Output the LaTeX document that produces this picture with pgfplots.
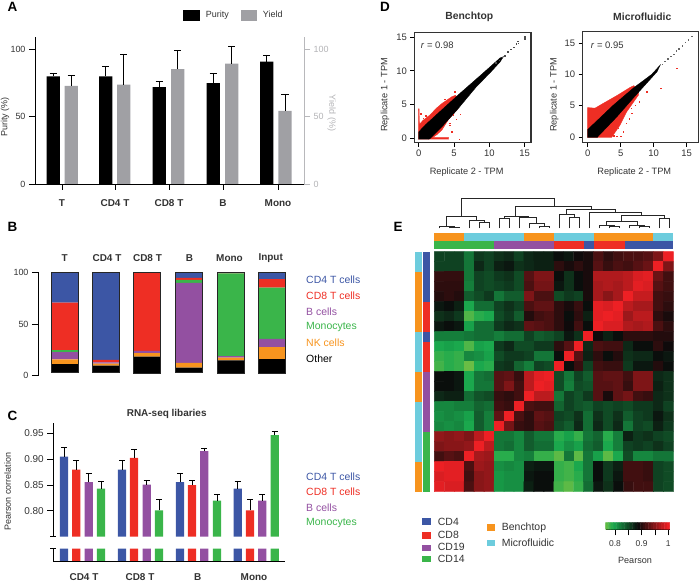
\documentclass[border=0pt]{standalone}
\usepackage{fontspec}
\setmainfont{Liberation Sans}
\usepackage{pgfplots}
\usepackage{pgfplotstable}
\pgfplotsset{compat=1.18}

\definecolor{cblue}{HTML}{3C56A5}
\definecolor{cred}{HTML}{EE2E24}
\definecolor{cpurple}{HTML}{9350A1}
\definecolor{cgreen}{HTML}{3AB54A}
\definecolor{corange}{HTML}{F7941E}
\definecolor{ccyan}{HTML}{6DCCDD}
\definecolor{cgrey}{HTML}{A0A0A4}
\definecolor{ctext}{HTML}{333333}

\newcommand\fs[1]{\fontsize{#1}{#1}\selectfont}

\pgfplotsset{
  panel/.style={scale only axis, anchor=south west, clip=false, enlargelimits=false,
    axis line style={line width=0.9pt}, tick style={line width=0.9pt,black},
    tick align=outside, major tick length=6bp,
    /pgf/number format/assume math mode=true,
    tick label style={font=\fs{9},text=ctext}},
  colormap={heat}{rgb255(0cm)=(106,189,69) rgb255(3cm)=(25,168,77) rgb255(12cm)=(10,10,10) rgb255(23cm)=(237,32,36)},
  errs/.style={error bars/y dir=plus, error bars/y explicit,
    error bars/error bar style={line width=0.9pt,black},
    error bars/error mark options={rotate=90,mark size=#1,line width=0.9pt,black}},
  scat/.style={panel, width=#1, xtick={0,5,10,15}, ytick={0,5,10,15},
    xtick pos=bottom, ytick pos=left, major tick length=4bp,
    axis line style={line width=1.1pt,ctext},
    tick label style={font=\fs{9.5}}},
  dots/.style={only marks, mark=square*, mark size=0.3bp, #1},
}

% panel B, stacked shares; base lifts the bars off the zero line
\pgfplotstableread{
x     base other nk   bc   mono cd8  cd4  rest
64.7  3.0  8.3   4.5  7.1  1.9  45.8 29.4 97.0
106.0 3.0  6.7   1.9  1.3  0    2.3  84.8 97.0
147.3 2.3  16.1  3.5  2.0  0    76.1 0    97.7
189.3 3.0  4.7   4.6  77.4 2.9  1.9  5.4  97.0
230.7 2.3  12.5  2.6  1.6  80.0 1.0  0    97.7
271.7 2.3  13.8  11.6 7.8  49.7 8.3  6.5  97.7
}\tableB

\newcommand\strip[5]{\addplot[fill=#1,draw=none,forget plot] coordinates {(#2,#4)(#3,#4)(#3,#5)(#2,#5)};}
% one dendrogram join: x1, x2, height, foot of left leg, foot of right leg
\newcommand\join[5]{\addplot[black!85,line width=0.8pt,forget plot] coordinates {(#1,#4)(#1,#3)(#2,#3)(#2,#5)};}

\begin{document}
\begin{tikzpicture}[x=1bp,y=1bp]
\path[use as bounding box] (0,0) rectangle (700,583);

% ---------- A
\begin{axis}[panel, at={(35bp,399bp)}, width=269bp, height=147bp,
    xmin=35, xmax=304, ymin=0, ymax=109.4,
    axis x line*=bottom, axis y line*=left,
    ytick={0,50,100},
    xtick={62,115,169,223,278}, xticklabels={T,CD4 T,CD8 T,B,Mono},
    xticklabel style={font=\fs{10}\bfseries,yshift=-6bp},
    ybar, bar width=13.3bp, bar shift=0pt]
\addplot[fill=black,draw=none,errs=3.6bp] coordinates {
  (53.3,80) +- (0,2.5) (105.7,80) +- (0,7.5) (159.3,72) +- (0,4.5) (213.3,75) +- (0,7) (266.7,91) +- (0,5)};
\addplot[fill=cgrey,draw=none,errs=3.6bp] coordinates {
  (71.3,73) +- (0,8) (123.7,74) +- (0,22.5) (177.7,85.5) +- (0,14) (231.7,89.5) +- (0,13) (285,54.5) +- (0,12.5)};
\end{axis}
\begin{axis}[panel, at={(35bp,399bp)}, width=269bp, height=147bp,
    xmin=35, xmax=304, ymin=0, ymax=109.4,
    axis x line=none, axis y line*=right, ytick={0,50,100},
    axis line style={cgrey!75}, tick style={cgrey!75},
    tick label style={text=cgrey!80}]
\addplot[draw=none] coordinates {(35,0)};
\end{axis}

% ---------- B
\begin{axis}[panel, at={(38bp,207.3bp)}, width=262bp, height=103.4bp,
    xmin=38, xmax=300, ymin=0, ymax=100,
    axis x line=none, axis y line*=left, ytick={0,50,100},
    ybar stacked, bar width=27bp]
\addplot[fill=none,draw=none] table[x=x,y=base] {\tableB};
\addplot[fill=black,draw=none] table[x=x,y=other] {\tableB};
\addplot[fill=corange,draw=none] table[x=x,y=nk] {\tableB};
\addplot[fill=cpurple,draw=none] table[x=x,y=bc] {\tableB};
\addplot[fill=cgreen,draw=none] table[x=x,y=mono] {\tableB};
\addplot[fill=cred,draw=none] table[x=x,y=cd8] {\tableB};
\addplot[fill=cblue,draw=none] table[x=x,y=cd4] {\tableB};
\end{axis}
\begin{axis}[panel, at={(38bp,207.3bp)}, width=262bp, height=103.4bp,
    xmin=38, xmax=300, ymin=0, ymax=100, hide axis,
    ybar stacked, bar width=27bp]
\addplot[fill=none,draw=none] table[x=x,y=base] {\tableB};
\addplot[fill=none,draw=black!85,line width=1.1pt] table[x=x,y=rest] {\tableB};
\end{axis}

% ---------- C, upper part of the broken axis
\begin{axis}[panel, at={(53.3bp,46.3bp)}, width=232bp, height=113.4bp, clip=true,
    xmin=53.3, xmax=285.3, ymin=0.75, ymax=0.9698,
    axis x line=none, axis y line*=left,
    ytick={0.8,0.85,0.9,0.95}, extra y ticks={0.75}, extra y tick labels={},
    extra y tick style={tick align=center},
    yticklabel style={/pgf/number format/fixed,/pgf/number format/fixed zerofill,/pgf/number format/precision=2,font=\fs{10}},
    ybar, bar width=8.3bp, bar shift=0pt]
\addplot[fill=cblue,draw=none,errs=3bp] coordinates {
  (64,0.905) +- (0,0.018) (122,0.880) +- (0,0.017) (180,0.856) +- (0,0.016) (237.7,0.843) +- (0,0.015)};
\addplot[fill=cred,draw=none,errs=3bp] coordinates {
  (76.3,0.880) +- (0,0.017) (134,0.903) +- (0,0.016) (192,0.850) +- (0,0.009) (250,0.801) +- (0,0.022)};
\addplot[fill=cpurple,draw=none,errs=3bp] coordinates {
  (88.7,0.856) +- (0,0.016) (146.7,0.851) +- (0,0.008) (204.3,0.916) +- (0,0.006) (262.3,0.820) +- (0,0.012)};
\addplot[fill=cgreen,draw=none,errs=3bp] coordinates {
  (101,0.843) +- (0,0.015) (159,0.801) +- (0,0.022) (217,0.820) +- (0,0.012) (274.7,0.947) +- (0,0.007)};
\end{axis}
% ---------- C, stub below the break
\begin{axis}[panel, at={(53.3bp,22bp)}, width=232bp, height=12.3bp,
    xmin=53.3, xmax=285.3, ymin=0, ymax=1,
    axis x line*=bottom, axis y line*=left,
    ytick={1}, yticklabels={}, tick align=center,
    xtick={84,140,197.7,254}, xticklabels={CD4 T,CD8 T,B,Mono},
    x tick style={draw=none},
    xticklabel style={font=\fs{10}\bfseries,yshift=-3.5bp},
    ybar, bar width=8.3bp, bar shift=0pt]
\addplot[fill=cblue,draw=none] coordinates {(64,1)(122,1)(180,1)(237.7,1)};
\addplot[fill=cred,draw=none] coordinates {(76.3,1)(134,1)(192,1)(250,1)};
\addplot[fill=cpurple,draw=none] coordinates {(88.7,1)(146.7,1)(204.3,1)(262.3,1)};
\addplot[fill=cgreen,draw=none] coordinates {(101,1)(159,1)(217,1)(274.7,1)};
\end{axis}

% ---------- D, left
\begin{axis}[scat=116.7bp, at={(414.3bp,440.3bp)}, height=110bp,
    xmin=-0.62, xmax=15.89, ymin=-0.59, ymax=15.63]
\addplot[fill=cred,draw=cred,line width=0.3pt] coordinates {
  (-0.05,-0.1)(-0.05,4.4)(0.06,4.4)(0.1,2.1)(0.6,2.7)(1.6,3.5)(2.5,4.5)(3.3,5.2)(4.7,6.2)(5.2,6.4)
  (5.6,6.0)(5.6,4.5)(4.2,2.8)(3.3,1.3)(2.6,0.6)(2,0.2)(4.2,0.2)(4.2,-0.1)};
\addplot[dots=cred] coordinates {
  (5.1,6.9)(4.4,2.0)(4.7,1.0)(5.75,-0.05)(0.66,3.0)(0.3,3.7)(3.7,5.8)(5.9,3.6)(4.9,3.5)(4.4,2.3)(5.3,2.9)(1.0,3.4)};
\addplot[fill=black,draw=black,line width=0.3pt] coordinates {
  (0,-0.1)(0,1.0)(1,2.1)(3,4.0)(5.85,6.7)(8.7,9.3)(10,10.5)(11.5,11.9)(12,12.1)(11.5,11.3)
  (10,9.6)(8.2,7.7)(5.4,4.2)(3.5,2)(1.6,0)(1.4,-0.1)};
\addplot[dots=black!70] coordinates {
  (10.9,11.2)(11.4,11.6)(11.8,12.0)(12.2,12.2)(12.6,12.8)(13,13.2)(13.4,13.5)(13.8,14)(14,14.4)(14.1,14.1)(15,15)(15,14.7)};
\end{axis}
% ---------- D, right
\begin{axis}[scat=115.6bp, at={(582.7bp,440.3bp)}, height=111bp,
    xmin=-0.76, xmax=16.76, ymin=-0.91, ymax=16.8]
\addplot[fill=cred,draw=cred,line width=0.3pt] coordinates {
  (-0.05,-0.1)(-0.05,4.7)(1.1,4.6)(2.4,5.4)(4.4,6.6)(6.4,7.9)(7,8.2)(7.7,7.2)(7.7,6.7)(5.9,4)(4.9,1.9)(3.6,-0.1)};
\addplot[dots=cred] coordinates {
  (5.4,0.85)(4.6,1.4)(3.9,0.2)(7.2,5.1)(6.7,3.8)(7.8,5.6)(8.9,7.2)(11.1,7.8)(13.5,11)(5,0.1)(4.4,0.1)(6.3,2.9)(5.8,2.2)(6.6,4.6)};
\addplot[fill=black,draw=black,line width=0.3pt] coordinates {
  (0,-0.1)(0,1.2)(3.9,5.1)(6.9,7.8)(9.7,10)(11,11.5)(10.5,10.4)(6.9,6.2)(4.4,3.2)(1.4,-0.1)};
\addplot[dots=black!60] coordinates {
  (11.3,11.6)(11.7,12.1)(12.1,12.5)(12.6,12.9)(13,13.2)(13.4,13.8)(13.8,14.1)(14.3,14.6)(14.8,15.1)(15.2,15.5)(15.8,16.1)};
\end{axis}

% ---------- E, dendrogram in units of thirds of a pixel
\begin{axis}[scale only axis, anchor=south west, at={(400bp,353bp)}, width=290bp, height=45bp,
    xmin=0, xmax=870, ymin=0, ymax=135, y dir=reverse, hide axis, clip=false]
\join{184}{462}{40}{95}{65}
\join{140}{230}{95}{125}{107}
\join{117}{163}{125}{130}{127}
\join{148}{178}{127}{130}{130}
\join{207}{253}{107}{130}{113}
\join{238}{268}{113}{130}{130}
\join{347}{575}{65}{93}{72}
\join{312}{385}{93}{100}{97}
\join{297}{327}{100}{130}{130}
\join{357}{410}{97}{130}{115}
\join{387}{433}{115}{130}{125}
\join{417}{447}{125}{130}{130}
\join{500}{645}{72}{88}{82}
\join{477}{522}{88}{130}{97}
\join{507}{537}{97}{130}{130}
\join{567}{725}{82}{130}{92}
\join{665}{792}{92}{108}{100}
\join{618}{712}{108}{120}{120}
\join{597}{642}{120}{130}{124}
\join{627}{657}{124}{130}{130}
\join{687}{732}{120}{130}{125}
\join{717}{747}{125}{130}{130}
\join{777}{807}{100}{130}{130}
\end{axis}

% ---------- E, heat map; row 1 on top, 24 columns
\begin{axis}[scale only axis, anchor=south west, at={(434.3bp,91.3bp)}, width=239bp, height=240bp,
    xmin=0.5, xmax=24.5, ymin=0.5, ymax=24.5, y dir=reverse, hide axis, clip=false,
    colormap name=heat, point meta min=0.765, point meta max=1]
\addplot[matrix plot*, mesh/cols=24, point meta=explicit, forget plot]
  table[row sep=crcr, header=false, x expr={mod(\coordindex,24)+1}, y expr={floor((\coordindex+0.5)/24)+1}, meta index=0] {
0.855\\0.855\\0.855\\0.825\\0.86\\0.855\\0.865\\0.87\\0.855\\0.87\\0.875\\0.875\\0.885\\0.88\\0.89\\0.895\\0.92\\0.905\\0.915\\0.92\\0.92\\0.925\\0.945\\1\\
0.855\\0.855\\0.855\\0.825\\0.87\\0.855\\0.875\\0.88\\0.865\\0.87\\0.875\\0.875\\0.905\\0.895\\0.905\\0.895\\0.925\\0.91\\0.92\\0.915\\0.925\\0.935\\1\\0.945\\
0.908\\0.908\\0.908\\0.825\\0.855\\0.85\\0.86\\0.865\\0.85\\0.925\\0.945\\0.945\\0.885\\0.865\\0.885\\0.895\\0.97\\0.97\\0.97\\0.975\\0.99\\0.995\\0.935\\0.915\\
0.905\\0.905\\0.905\\0.82\\0.855\\0.85\\0.855\\0.86\\0.85\\0.92\\0.94\\0.94\\0.88\\0.865\\0.885\\0.895\\0.965\\0.97\\0.965\\0.975\\0.995\\0.99\\0.925\\0.915\\
0.9\\0.905\\0.9\\0.84\\0.85\\0.86\\0.825\\0.84\\0.84\\0.945\\0.92\\0.92\\0.85\\0.86\\0.855\\0.895\\0.965\\0.95\\0.965\\1\\0.98\\0.98\\0.915\\0.91\\
0.88\\0.885\\0.875\\0.795\\0.83\\0.83\\0.855\\0.865\\0.855\\0.92\\0.93\\0.93\\0.905\\0.895\\0.91\\0.885\\0.995\\0.99\\1\\0.975\\0.965\\0.965\\0.915\\0.905\\
0.865\\0.87\\0.86\\0.775\\0.79\\0.795\\0.85\\0.86\\0.84\\0.9\\0.915\\0.92\\0.905\\0.885\\0.905\\0.875\\0.995\\1\\0.995\\0.96\\0.975\\0.975\\0.905\\0.895\\
0.88\\0.885\\0.88\\0.8\\0.83\\0.83\\0.86\\0.87\\0.865\\0.93\\0.925\\0.92\\0.905\\0.89\\0.915\\0.885\\1\\0.99\\0.99\\0.97\\0.965\\0.97\\0.92\\0.905\\
0.82\\0.82\\0.82\\0.825\\0.83\\0.83\\0.82\\0.83\\0.83\\0.855\\0.84\\0.845\\0.855\\0.88\\0.865\\1\\0.89\\0.875\\0.885\\0.905\\0.905\\0.905\\0.9\\0.9\\
0.795\\0.8\\0.795\\0.775\\0.8\\0.795\\0.86\\0.87\\0.85\\0.85\\0.86\\0.86\\0.905\\0.925\\1\\0.87\\0.92\\0.915\\0.915\\0.87\\0.885\\0.885\\0.905\\0.89\\
0.785\\0.79\\0.785\\0.815\\0.81\\0.8\\0.85\\0.86\\0.86\\0.855\\0.825\\0.825\\0.885\\1\\0.925\\0.875\\0.905\\0.885\\0.9\\0.865\\0.87\\0.87\\0.885\\0.88\\
0.78\\0.79\\0.785\\0.765\\0.795\\0.79\\0.86\\0.865\\0.835\\0.82\\0.855\\0.85\\1\\0.885\\0.91\\0.855\\0.915\\0.91\\0.91\\0.86\\0.88\\0.88\\0.9\\0.885\\
0.885\\0.885\\0.88\\0.795\\0.825\\0.83\\0.925\\0.93\\0.91\\0.975\\0.995\\1\\0.85\\0.825\\0.855\\0.84\\0.925\\0.93\\0.93\\0.915\\0.945\\0.945\\0.87\\0.865\\
0.885\\0.885\\0.88\\0.795\\0.825\\0.825\\0.925\\0.945\\0.915\\0.975\\1\\0.995\\0.85\\0.82\\0.85\\0.845\\0.925\\0.925\\0.93\\0.91\\0.945\\0.945\\0.875\\0.865\\
0.87\\0.875\\0.875\\0.83\\0.845\\0.85\\0.91\\0.905\\0.915\\1\\0.975\\0.975\\0.825\\0.855\\0.845\\0.86\\0.925\\0.895\\0.93\\0.94\\0.915\\0.91\\0.87\\0.865\\
0.815\\0.815\\0.82\\0.82\\0.835\\0.83\\0.915\\0.91\\1\\0.92\\0.915\\0.915\\0.835\\0.855\\0.845\\0.84\\0.855\\0.85\\0.855\\0.85\\0.86\\0.86\\0.87\\0.855\\
0.81\\0.815\\0.81\\0.8\\0.84\\0.82\\0.93\\1\\0.92\\0.905\\0.93\\0.925\\0.855\\0.85\\0.865\\0.83\\0.865\\0.85\\0.865\\0.84\\0.855\\0.86\\0.88\\0.865\\
0.815\\0.81\\0.815\\0.795\\0.84\\0.82\\1\\0.94\\0.91\\0.905\\0.925\\0.92\\0.85\\0.84\\0.87\\0.83\\0.87\\0.85\\0.87\\0.825\\0.855\\0.85\\0.875\\0.86\\
0.955\\0.95\\0.955\\0.945\\0.975\\1\\0.825\\0.825\\0.815\\0.84\\0.825\\0.825\\0.79\\0.8\\0.785\\0.825\\0.835\\0.79\\0.82\\0.875\\0.86\\0.865\\0.855\\0.85\\
0.945\\0.95\\0.95\\0.955\\1\\0.975\\0.825\\0.83\\0.815\\0.84\\0.83\\0.83\\0.795\\0.81\\0.8\\0.83\\0.84\\0.795\\0.82\\0.855\\0.86\\0.855\\0.865\\0.855\\
0.915\\0.925\\0.92\\1\\0.965\\0.96\\0.79\\0.79\\0.815\\0.82\\0.785\\0.785\\0.77\\0.825\\0.77\\0.825\\0.8\\0.77\\0.795\\0.85\\0.815\\0.815\\0.825\\0.825\\
1\\0.995\\0.995\\0.92\\0.96\\0.955\\0.81\\0.815\\0.81\\0.875\\0.88\\0.88\\0.785\\0.78\\0.795\\0.825\\0.885\\0.86\\0.875\\0.915\\0.915\\0.91\\0.855\\0.85\\
0.99\\0.995\\0.995\\0.915\\0.95\\0.955\\0.805\\0.81\\0.81\\0.88\\0.885\\0.885\\0.785\\0.78\\0.79\\0.825\\0.885\\0.86\\0.88\\0.915\\0.915\\0.91\\0.855\\0.85\\
0.995\\0.99\\0.99\\0.92\\0.95\\0.955\\0.805\\0.81\\0.81\\0.875\\0.885\\0.885\\0.78\\0.77\\0.785\\0.83\\0.88\\0.865\\0.885\\0.91\\0.915\\0.915\\0.855\\0.85\\
};
% strips along the top: method, then cell type
\strip{corange}{0.5}{3.5}{-1.34}{-0.6}
\strip{ccyan}{3.5}{9.5}{-1.34}{-0.6}
\strip{corange}{9.5}{12.5}{-1.34}{-0.6}
\strip{ccyan}{12.5}{16.5}{-1.34}{-0.6}
\strip{corange}{16.5}{22.5}{-1.34}{-0.6}
\strip{ccyan}{22.5}{24.5}{-1.34}{-0.6}
\strip{cgreen}{0.5}{6.5}{-0.54}{0.2}
\strip{cpurple}{6.5}{12.5}{-0.54}{0.2}
\strip{cred}{12.5}{15.5}{-0.54}{0.2}
\strip{cblue}{15.5}{16.5}{-0.54}{0.2}
\strip{cred}{16.5}{19.6}{-0.54}{0.2}
\strip{cblue}{19.6}{24.5}{-0.54}{0.2}
% strips along the left side
\strip{ccyan}{-1.44}{-0.7}{0.5}{2.5}
\strip{corange}{-1.44}{-0.7}{2.5}{8.5}
\strip{ccyan}{-1.44}{-0.7}{8.5}{12.5}
\strip{corange}{-1.44}{-0.7}{12.5}{15.5}
\strip{ccyan}{-1.44}{-0.7}{15.5}{21.5}
\strip{corange}{-1.44}{-0.7}{21.5}{24.5}
\strip{cblue}{-0.66}{0.07}{0.5}{5.5}
\strip{cred}{-0.66}{0.07}{5.5}{8.5}
\strip{cblue}{-0.66}{0.07}{8.5}{9.5}
\strip{cred}{-0.66}{0.07}{9.5}{12.5}
\strip{cpurple}{-0.66}{0.07}{12.5}{18.5}
\strip{cgreen}{-0.66}{0.07}{18.5}{24.5}
\end{axis}

% ---------- E, colour key
\begin{axis}[panel, at={(605.6bp,53.7bp)}, width=64bp, height=6.6bp,
    xmin=0.765, xmax=1.005, ymin=0.5, ymax=2.5,
    axis x line*=bottom, axis y line=none,
    xtick={0.8,0.85,0.9,0.95,1}, xticklabels={0.8,,0.9,,1},
    tick label style={font=\fs{8.5}}, xticklabel style={yshift=-2bp},
    colormap name=heat, point meta min=0.765, point meta max=1]
\addplot[matrix plot*, mesh/cols=24, point meta=explicit]
  table[row sep=crcr, header=false, x index=0, y expr={floor((\coordindex+0.5)/24)+1}, meta index=0] {
0.77\\0.78\\0.79\\0.8\\0.81\\0.82\\0.83\\0.84\\0.85\\0.86\\0.87\\0.88\\0.89\\0.9\\0.91\\0.92\\0.93\\0.94\\0.95\\0.96\\0.97\\0.98\\0.99\\1\\
0.77\\0.78\\0.79\\0.8\\0.81\\0.82\\0.83\\0.84\\0.85\\0.86\\0.87\\0.88\\0.89\\0.9\\0.91\\0.92\\0.93\\0.94\\0.95\\0.96\\0.97\\0.98\\0.99\\1\\
};
\end{axis}

% ---------- text and keys, in pixel positions of the figure
\begin{scope}[shift={(0,583)},y=-1bp,every node/.style={inner sep=0pt,text=ctext}]
\foreach \l/\px/\py in {A/12.5/7,B/12.5/227,C/12.5/416,D/385/7,E/398/227}
  \node[text=black,font=\fs{13.5}\bfseries] at (\px,\py) {\l};

% A
\fill[black] (182.7,10) rectangle (200,20.7);
\node[anchor=west,font=\fs{9}] at (205.7,14.7) {Purity};
\fill[cgrey] (240.7,10) rectangle (257.3,20.7);
\node[anchor=west,font=\fs{9}] at (262.7,14.7) {Yield};
\node[rotate=90,font=\fs{9}] at (5,117) {Purity (\%)};
\node[rotate=270,font=\fs{9},text=cgrey!80] at (331.7,113) {Yield (\%)};

% B
\foreach \l/\px in {T/64.7,CD4 T/107,CD8 T/147.5,B/189.5,Mono/229.5,Input/270.7}
  \node[font=\fs{10}\bfseries] at (\px,258.3) {\l};
\foreach \l/\c/\py in {CD4 T cells/cblue/280,CD8 T cells/cred/295.7,B cells/cpurple/311.3,Monocytes/cgreen/327,NK cells/corange/342.7,Other/black/359}
  \node[anchor=west,font=\fs{10.5},text=\c] at (306,\py) {\l};

% C
\node[font=\fs{10}\bfseries] at (166.7,414.3) {RNA-seq libaries};
\node[rotate=90,font=\fs{9}] at (7.7,491.7) {Pearson correlation};
\foreach \l/\c/\py in {CD4 T cells/cblue/476.7,CD8 T cells/cred/492,B cells/cpurple/507.7,Monocytes/cgreen/523}
  \node[anchor=west,font=\fs{10.5},text=\c] at (306,\py) {\l};

% D
\node[font=\fs{10.4}\bfseries] at (469.3,17.3) {Benchtop};
\node[font=\fs{10.4}\bfseries] at (642.3,17.3) {Microfluidic};
\node[font=\fs{9.25}] at (466.7,171.7) {Replicate 2 - TPM};
\node[font=\fs{9.25}] at (634.3,171.7) {Replicate 2 - TPM};
\node[rotate=90,font=\fs{9.25}] at (385,95) {Replicate 1 - TPM};
\node[rotate=90,font=\fs{9.25}] at (554.3,95) {Replicate 1 - TPM};
\node[anchor=west,font=\fs{9.5}] at (420.7,45) {\textit{r} = 0.98};
\node[anchor=west,font=\fs{9.5}] at (590.7,45) {\textit{r} = 0.95};

% E keys
\fill[cblue] (422.3,517.7) rectangle (431.3,524.7);
\fill[cred] (422.3,531.7) rectangle (431.3,538.7);
\fill[cpurple] (422.3,544.7) rectangle (431.3,551);
\fill[cgreen] (422.3,556) rectangle (431.3,562.3);
\foreach \l/\py in {CD4/521.7,CD8/535,CD19/547,CD14/559}
  \node[anchor=west,font=\fs{10.5}] at (437.7,\py) {\l};
\fill[corange] (486.7,524) rectangle (495.3,530.7);
\fill[ccyan] (486.7,540) rectangle (495.3,546);
\node[anchor=west,font=\fs{10.5}] at (501.7,527.7) {Benchtop};
\node[anchor=west,font=\fs{10.5}] at (501.7,542.7) {Microfluidic};
\node[font=\fs{9.1}] at (635,560) {Pearson};
\end{scope}
\end{tikzpicture}
\end{document}
